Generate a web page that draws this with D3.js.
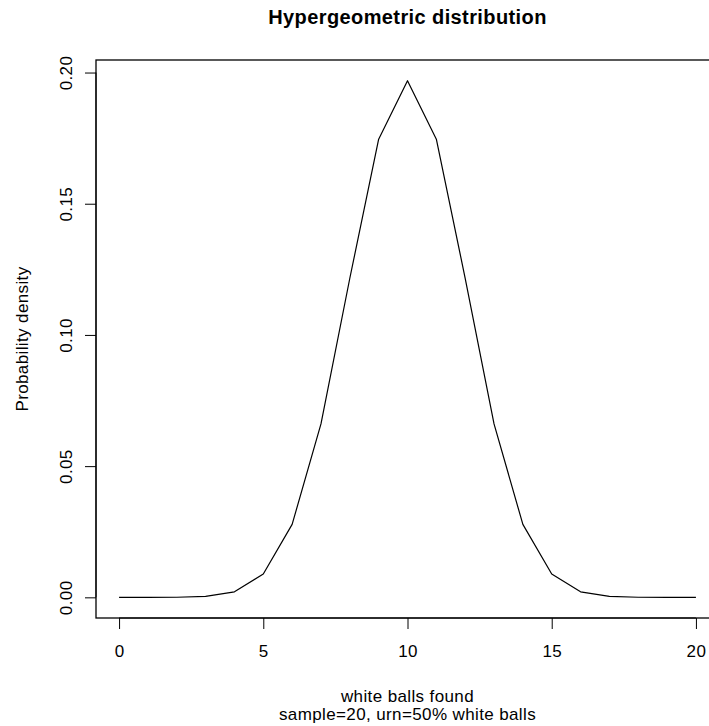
<!DOCTYPE html>
<html>
<head>
<meta charset="utf-8">
<script src="https://cdn.jsdelivr.net/npm/d3@7"></script>
<style>
  html, body { margin: 0; padding: 0; background: #fff; }
  svg text { font-family: "Liberation Sans", Arial, Helvetica, sans-serif; fill: #000; letter-spacing: 0.38px; }
</style>
</head>
<body>
<svg id="chart" width="709" height="726"></svg>
<script>
// Number of white balls found in a sample of 20 drawn from an urn of 50% white balls
const whiteFound = [0, 1, 2, 3, 4, 5, 6, 7, 8, 9, 10, 11, 12, 13, 14, 15, 16, 17, 18, 19, 20];
const probability = [0.0000001, 0.000003, 0.00004, 0.00036, 0.0021, 0.0089, 0.0278, 0.0661,
                     0.1216, 0.1746, 0.1969, 0.1746, 0.1216, 0.0661, 0.0278, 0.0089, 0.0021,
                     0.00036, 0.00004, 0.000003, 0.0000001];
const xTicks = [0, 5, 10, 15, 20];
const yTicks = [0.00, 0.05, 0.10, 0.15, 0.20];

const titleText = "Hypergeometric distribution";
const xLabel = ["white balls found", "sample=20, urn=50% white balls"];
const yLabel = "Probability density";

const svg = d3.select("#chart");
const W = 709, H = 726;
const plot = { left: 96, right: 719, top: 60, bottom: 618 };
const fontSize = 17;

svg.append("rect").attr("width", W).attr("height", H).attr("fill", "#fff");

// 4% padding on each side of the data range
function padded(ext) {
  const d = (ext[1] - ext[0]) * 0.04;
  return [ext[0] - d, ext[1] + d];
}

const x = d3.scaleLinear()
  .domain(padded(d3.extent(whiteFound)))
  .range([plot.left, plot.right]);
const y = d3.scaleLinear()
  .domain(padded(d3.extent(probability)))
  .range([plot.bottom, plot.top]);

const tickLen = 11;

// X axis
const xAxis = svg.append("g")
  .attr("transform", `translate(0,${plot.bottom})`)
  .call(d3.axisBottom(x).tickValues(xTicks).tickFormat(d3.format("d"))
    .tickSizeInner(tickLen).tickSizeOuter(0).tickPadding(0));
xAxis.select(".domain")
  .attr("d", `M${x(xTicks[0])},0H${x(xTicks[xTicks.length - 1])}`)
  .attr("stroke", "#000");
xAxis.selectAll(".tick line").attr("stroke", "#000").attr("stroke-width", 1);
xAxis.selectAll(".tick text")
  .attr("dy", null)
  .attr("font-size", fontSize)
  .attr("font-family", "Liberation Sans, Arial, sans-serif")
  .attr("text-anchor", "middle")
  .attr("y", 657 - plot.bottom);

// Y axis
const yAxis = svg.append("g")
  .attr("transform", `translate(${plot.left},0)`)
  .call(d3.axisLeft(y).tickValues(yTicks).tickFormat(d3.format(".2f"))
    .tickSizeInner(tickLen).tickSizeOuter(0).tickPadding(0));
yAxis.select(".domain")
  .attr("d", `M0,${y(yTicks[0])}V${y(yTicks[yTicks.length - 1])}`)
  .attr("stroke", "#000");
yAxis.selectAll(".tick line").attr("stroke", "#000").attr("stroke-width", 1);
yAxis.selectAll(".tick text")
  .attr("dy", null)
  .attr("font-size", fontSize)
  .attr("font-family", "Liberation Sans, Arial, sans-serif")
  .attr("text-anchor", "middle")
  .attr("transform", `translate(${72 - plot.left},0) rotate(-90)`)
  .attr("x", 0).attr("y", 0);

// Plot box
svg.append("rect")
  .attr("x", plot.left).attr("y", plot.top)
  .attr("width", plot.right - plot.left).attr("height", plot.bottom - plot.top)
  .attr("fill", "none").attr("stroke", "#000").attr("stroke-width", 1.3);

// Density line
const line = d3.line()
  .x((d, i) => x(whiteFound[i]))
  .y(d => y(d));
svg.append("path")
  .datum(probability)
  .attr("d", line)
  .attr("fill", "none")
  .attr("stroke", "#000")
  .attr("stroke-width", 1.2)
  .attr("stroke-linejoin", "round");

// Title
const cx = (plot.left + plot.right) / 2;
svg.append("text")
  .attr("x", cx).attr("y", 24)
  .attr("text-anchor", "middle")
  .attr("font-size", 20)
  .attr("font-weight", "bold")
  .style("letter-spacing", "0.4px")
  .text(titleText);

// Axis labels
svg.selectAll(".xlab")
  .data(xLabel)
  .enter().append("text")
  .attr("class", "xlab")
  .attr("x", cx)
  .attr("y", (d, i) => 702 + i * 18.3)
  .attr("text-anchor", "middle")
  .attr("font-size", fontSize)
  .text(d => d);

svg.append("text")
  .attr("transform", `translate(28,${(plot.top + plot.bottom) / 2}) rotate(-90)`)
  .attr("text-anchor", "middle")
  .attr("font-size", fontSize)
  .text(yLabel);
</script>
</body>
</html>
